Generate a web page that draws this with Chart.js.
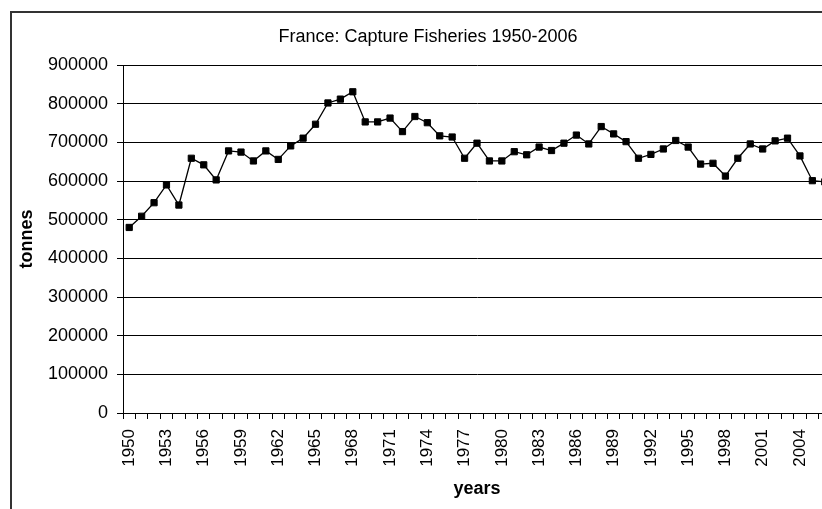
<!DOCTYPE html>
<html>
<head>
<meta charset="utf-8">
<title>France: Capture Fisheries 1950-2006</title>
<script src="https://cdn.jsdelivr.net/npm/chart.js@4.4.1/dist/chart.umd.min.js"></script>
<style>
    html, body { margin: 0; padding: 0; background: #fff; overflow: hidden; width: 822px; height: 509px; }
    #frame { position: absolute; left: 10px; top: 11px; width: 832px; height: 520px; border: 2px solid #333; background: #fff; }
    #chart { display: block; }
</style>
</head>
<body>
<div id="frame"><canvas id="chart" width="832" height="520"></canvas></div>
<script>
// France capture fisheries, tonnes per year

const years = [
    '1950', '1951', '1952', '1953', '1954', '1955', '1956', '1957', '1958', '1959',
    '1960', '1961', '1962', '1963', '1964', '1965', '1966', '1967', '1968', '1969',
    '1970', '1971', '1972', '1973', '1974', '1975', '1976', '1977', '1978', '1979',
    '1980', '1981', '1982', '1983', '1984', '1985', '1986', '1987', '1988', '1989',
    '1990', '1991', '1992', '1993', '1994', '1995', '1996', '1997', '1998', '1999',
    '2000', '2001', '2002', '2003', '2004', '2005', '2006'
];

const tonnes = [
    480000, 509000, 544000, 590000, 538000, 659000, 642000, 603000, 678000, 675000,
    652000, 678000, 656000, 691000, 711000, 747000, 802000, 812000, 831000, 753000,
    753000, 763000, 728000, 767000, 751000, 717000, 714000, 659000, 698000, 652000,
    652000, 676000, 668000, 688000, 679000, 698000, 719000, 696000, 741000, 722000,
    702000, 659000, 669000, 683000, 705000, 688000, 644000, 646000, 613000, 659000,
    696000, 683000, 704000, 711000, 665000, 601000, 598000
];

// only every third year gets a label
const yearTicks = [
    '1950', '1953', '1956', '1959', '1962', '1965', '1968', '1971', '1974', '1977',
    '1980', '1983', '1986', '1989', '1992', '1995', '1998', '2001', '2004'
];

const FONT = "'Liberation Sans', Arial, sans-serif";

const ctx = document.getElementById('chart').getContext('2d');
new Chart(ctx, {
    type: 'line',
    data: {
        labels: years,
        datasets: [{
            label: 'tonnes',
            data: tonnes,
            borderColor: '#000',
            borderWidth: 1.3,
            backgroundColor: '#000',
            pointStyle: 'rect',
            pointRadius: 4.4,
            pointBorderWidth: 1,
            pointBorderColor: '#000',
            pointBackgroundColor: '#000',
            tension: 0,
            fill: false
        }]
    },
    options: {
        responsive: false,
        animation: false,
        layout: {
            padding: { left: 0, right: 0, top: 0, bottom: 20 }
        },
        plugins: {
            legend: { display: false },
            tooltip: { enabled: false },
            title: {
                display: true,
                text: 'France: Capture Fisheries 1950-2006',
                color: '#000',
                font: { family: FONT, size: 18, weight: 'normal', lineHeight: 1.2 },
                padding: { top: 13, bottom: 17.5 }
            }
        },
        scales: {
            x: {
                type: 'category',
                offset: true,
                afterFit: function (scale) {
                    scale.height = 100;
                    scale.paddingLeft = 0;
                    scale.paddingRight = 13;
                },
                grid: {
                    offset: true,
                    drawOnChartArea: false,
                    drawTicks: true,
                    tickLength: 6,
                    tickColor: '#000'
                },
                border: { display: true, color: '#000', width: 1 },
                ticks: {
                    autoSkip: false,
                    maxRotation: 90,
                    minRotation: 90,
                    padding: 10,
                    color: '#000',
                    font: { family: FONT, size: 17 },
                    callback: function (value, index) {
                        const y = years[index];
                        return yearTicks.includes(y) ? y : '';
                    }
                },
                title: {
                    display: true,
                    text: 'years',
                    color: '#000',
                    font: { family: FONT, size: 18, weight: 'bold', lineHeight: 1.2 },
                    padding: { top: 0, bottom: 13 }
                }
            },
            y: {
                min: 0,
                max: 900000,
                afterFit: function (scale) { scale.width = 111; },
                grid: {
                    color: '#000',
                    lineWidth: 1,
                    drawTicks: true,
                    tickLength: 6,
                    tickColor: '#000'
                },
                border: { display: true, color: '#000', width: 1 },
                ticks: {
                    stepSize: 100000,
                    padding: 9,
                    color: '#000',
                    font: { family: FONT, size: 18 },
                    callback: function (value) { return String(value); }
                },
                title: {
                    display: true,
                    text: 'tonnes',
                    color: '#000',
                    font: { family: FONT, size: 18, weight: 'bold', lineHeight: 1.2 },
                    padding: { top: 4, bottom: 0 }
                }
            }
        }
    }
});
</script>
</body>
</html>
